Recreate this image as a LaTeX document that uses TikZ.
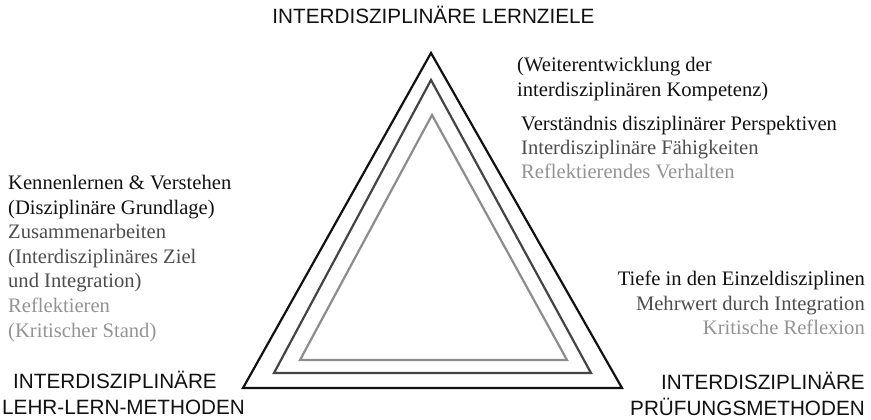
\documentclass[tikz,border=0pt]{standalone}
\usepackage{fontspec}
\setmainfont{Liberation Serif}
\setsansfont{Liberation Sans}
\definecolor{txtdark}{HTML}{111111}
\definecolor{txtmid}{HTML}{4D4D4D}
\definecolor{txtlight}{HTML}{939393}
\definecolor{tridark}{HTML}{111111}
\definecolor{trimid}{HTML}{444444}
\definecolor{trilight}{HTML}{8C8C8C}
\tikzset{
  corner/.style={font=\sffamily\fontsize{20.7}{26}\selectfont, text=txtdark, inner sep=0pt},
  aim/.style={font=\fontsize{20.6}{24.6}\selectfont, inner sep=0pt},
  level/.style={line width=2.2pt}
}

\begin{document}
\begin{tikzpicture}[x=1pt,y=-1pt]
\useasboundingbox (0,0) rectangle (871,420);
% triangles, outside to inside
\draw [level, tridark] (431,53) -- (243,388) -- (622,388) -- cycle;
\draw [level, trimid] (431,80) -- (274,373) -- (591,373) -- cycle;
\draw [level, trilight] (432,115) -- (300,360) -- (567,360) -- cycle;
% corner titles
\node [corner, anchor=base] (lernziele) at (433.5,24) {INTERDISZIPLINÄRE LERNZIELE};
\node [corner, anchor=north west, align=left] (lehrlern) at (2,371)
  {\hspace*{11pt}INTERDISZIPLINÄRE\\LEHR-LERN-METHODEN};
\node [corner, anchor=north east, align=right] (pruefung) at (865,372)
  {INTERDISZIPLINÄRE\\PRÜFUNGSMETHODEN};
% goals
\node [aim, anchor=north west, align=left, text=txtdark]
  (kompetenz) at (517,57) {(Weiterentwicklung der\\interdisziplinären Kompetenz)};
\node [aim, anchor=north west, align=left, font=\fontsize{20.6}{23.8}\selectfont]
  (ziele) at (521,116)
  {\textcolor{txtdark}{Verständnis disziplinärer Perspektiven}\\
   \textcolor{txtmid}{Interdisziplinäre Fähigkeiten}\\
   \textcolor{txtlight}{Reflektierendes Verhalten}};
% methods
\node [aim, anchor=north west, align=left] (methoden) at (8,175)
  {\textcolor{txtdark}{Kennenlernen \& Verstehen}\\
   \textcolor{txtdark}{(Disziplinäre Grundlage)}\\
   \textcolor{txtmid}{Zusammenarbeiten}\\
   \textcolor{txtmid}{(Interdisziplinäres Ziel}\\
   \textcolor{txtmid}{und Integration)}\\
   \textcolor{txtlight}{Reflektieren}\\
   \textcolor{txtlight}{(Kritischer Stand)}};
% assessment
\node [aim, anchor=north east, align=right] (pruefziele) at (865,271)
  {\textcolor{txtdark}{Tiefe in den Einzeldisziplinen}\\
   \textcolor{txtmid}{Mehrwert durch Integration}\\
   \textcolor{txtlight}{Kritische Reflexion}};
\end{tikzpicture}
\end{document}
